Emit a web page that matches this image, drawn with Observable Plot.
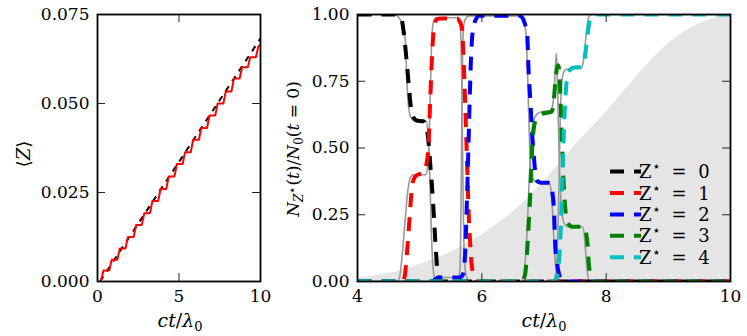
<!DOCTYPE html>
<html><head><meta charset="utf-8">
<script src="https://cdn.jsdelivr.net/npm/d3@7"></script>
<script src="https://cdn.jsdelivr.net/npm/@observablehq/plot@0.6"></script>
<style>
html,body{margin:0;padding:0;background:#fff;}
#wrap{position:relative;width:747px;height:336px;overflow:hidden;}
#left,#right{position:absolute;top:0;}
#left{left:0;} #right{left:280px;}
#wrap svg, #wrap svg text, #wrap svg tspan{font-family:"DejaVu Serif","Liberation Serif",serif !important;}
</style></head><body><div id="wrap"><div id="left"></div><div id="right"></div></div>
<script>
// ---------- Left panel data: <Z> vs ct/lambda0 ----------
const xTicksL = [0, 5, 10];
const yTicksL = [0, 0.025, 0.05, 0.075];
const meanX = [0.15, 10];
const meanY = [0, 0.0683];
const redX = [0.2, 0.37, 0.72, 0.87, 1.22, 1.37, 1.72, 1.87, 2.22, 2.37, 2.72, 2.87, 3.22, 3.37, 3.72, 3.87, 4.22, 4.37, 4.72, 4.87, 5.22, 5.37, 5.72, 5.87, 6.22, 6.37, 6.72, 6.87, 7.22, 7.37, 7.72, 7.87, 8.22, 8.37, 8.72, 8.87, 9.22, 9.37, 9.72, 9.87, 10];
const redY = [0, 0.0031, 0.0031, 0.0061, 0.0061, 0.0093, 0.0093, 0.0125, 0.0125, 0.0159, 0.0159, 0.0192, 0.0192, 0.0226, 0.0226, 0.0260, 0.0260, 0.0295, 0.0295, 0.0330, 0.0330, 0.0363, 0.0363, 0.0398, 0.0398, 0.0431, 0.0431, 0.0466, 0.0466, 0.0500, 0.0500, 0.0534, 0.0534, 0.0570, 0.0570, 0.0602, 0.0602, 0.0630, 0.0630, 0.0660, 0.0665];

// ---------- Right panel data: N_Z*(t)/N0 ----------
const xTicksR = [4, 6, 8, 10];
const yTicksR = [0, 0.25, 0.5, 0.75, 1];
const envX = [4, 4.5, 5, 5.5, 6, 6.5, 7, 7.5, 8, 8.5, 9, 9.5, 10];
const envY = [0.012, 0.03, 0.065, 0.11, 0.175, 0.26, 0.375, 0.51, 0.635, 0.77, 0.89, 0.965, 1.0];

const seriesLabels = ["0", "1", "2", "3", "4"];
const seriesColors = ["#000000", "#ff0000", "#0000ff", "#008000", "#00bfbf"];

// simulation (dashed)
const simX0 = [4, 4.6, 4.66, 4.71, 4.76, 4.8, 4.83, 4.86, 4.9, 4.95, 5.06, 5.1, 5.14, 5.17, 5.2, 5.23, 5.26, 5.29, 5.33, 10];
const simY0 = [1, 1, 0.995, 0.98, 0.9, 0.8, 0.72, 0.65, 0.615, 0.603, 0.6, 0.585, 0.53, 0.44, 0.35, 0.24, 0.12, 0.03, 0, 0];
const simX1 = [4, 4.72, 4.76, 4.79, 4.82, 4.85, 4.88, 4.92, 4.97, 5.06, 5.1, 5.14, 5.17, 5.2, 5.23, 5.27, 5.32, 5.6, 5.64, 5.68, 5.72, 5.755, 5.79, 5.83, 5.87, 5.93, 10];
const simY1 = [0, 0, 0.02, 0.09, 0.18, 0.28, 0.36, 0.39, 0.4, 0.405, 0.43, 0.5, 0.68, 0.85, 0.95, 0.98, 0.985, 0.985, 0.975, 0.95, 0.75, 0.5, 0.25, 0.08, 0.02, 0, 0];
const simX2 = [4, 5.2, 5.26, 5.3, 5.64, 5.68, 5.71, 5.73, 5.76, 5.79, 5.82, 5.85, 5.9, 5.96, 6.62, 6.67, 6.7, 6.73, 6.75, 6.78, 6.81, 6.83, 6.86, 6.9, 6.95, 7.1, 7.13, 7.16, 7.18, 7.21, 7.24, 7.3, 10];
const simY2 = [0, 0, 0.01, 0.015, 0.015, 0.02, 0.04, 0.1, 0.3, 0.55, 0.8, 0.93, 0.98, 0.995, 0.995, 0.98, 0.96, 0.93, 0.8, 0.68, 0.55, 0.49, 0.41, 0.375, 0.37, 0.37, 0.34, 0.27, 0.14, 0.07, 0.03, 0, 0];
const simX3 = [4, 6.64, 6.69, 6.72, 6.75, 6.78, 6.81, 6.84, 6.88, 6.94, 7.0, 7.12, 7.15, 7.18, 7.21, 7.23, 7.25, 7.27, 7.29, 7.31, 7.34, 7.38, 7.45, 7.64, 7.67, 7.7, 7.72, 7.75, 7.8, 10];
const simY3 = [0, 0, 0.02, 0.08, 0.2, 0.33, 0.5, 0.58, 0.61, 0.625, 0.63, 0.635, 0.66, 0.74, 0.8, 0.81, 0.77, 0.65, 0.52, 0.4, 0.28, 0.22, 0.205, 0.205, 0.19, 0.14, 0.07, 0.02, 0, 0];
const simX4 = [4, 7.17, 7.21, 7.24, 7.27, 7.3, 7.33, 7.36, 7.4, 7.46, 7.62, 7.65, 7.68, 7.71, 7.74, 7.78, 7.85, 10];
const simY4 = [0, 0, 0.02, 0.07, 0.2, 0.42, 0.62, 0.74, 0.785, 0.8, 0.805, 0.83, 0.88, 0.94, 0.98, 0.995, 1, 1];

// model (thin grey)
const modX0 = [4, 4.6, 4.66, 4.7, 4.74, 4.77, 4.8, 4.83, 4.88, 4.95, 5.1, 5.13, 5.16, 5.19, 5.22, 5.26, 10];
const modY0 = [1, 1, 0.99, 0.975, 0.95, 0.9, 0.72, 0.64, 0.607, 0.6, 0.6, 0.57, 0.42, 0.17, 0.04, 0, 0];
const modX1 = [4, 4.64, 4.68, 4.72, 4.77, 4.81, 4.85, 4.9, 5.1, 5.13, 5.16, 5.19, 5.22, 5.26, 5.62, 5.65, 5.68, 5.7, 5.72, 5.75, 5.8, 10];
const modY1 = [0, 0, 0.02, 0.1, 0.24, 0.34, 0.39, 0.4, 0.4, 0.43, 0.6, 0.88, 0.97, 0.988, 0.988, 0.97, 0.7, 0.3, 0.08, 0.02, 0, 0];
const modX2 = [4, 5.17, 5.22, 5.27, 5.62, 5.65, 5.67, 5.69, 5.71, 5.74, 5.8, 6.62, 6.67, 6.71, 6.74, 6.77, 6.8, 6.85, 6.9, 7.08, 7.12, 7.15, 7.18, 7.21, 7.25, 10];
const modY2 = [0, 0, 0.008, 0.015, 0.015, 0.05, 0.4, 0.85, 0.96, 0.985, 0.995, 0.995, 0.98, 0.93, 0.75, 0.5, 0.4, 0.375, 0.37, 0.37, 0.33, 0.2, 0.07, 0.02, 0, 0];
const modX3 = [4, 6.63, 6.67, 6.7, 6.73, 6.76, 6.79, 6.83, 6.88, 6.95, 7.1, 7.14, 7.17, 7.19, 7.2, 7.21, 7.23, 7.25, 7.28, 7.32, 7.38, 7.62, 7.65, 7.68, 7.7, 7.73, 10];
const modY3 = [0, 0, 0.02, 0.08, 0.2, 0.37, 0.52, 0.6, 0.625, 0.635, 0.64, 0.66, 0.74, 0.83, 0.855, 0.8, 0.6, 0.42, 0.28, 0.22, 0.205, 0.205, 0.17, 0.08, 0.03, 0, 0];
const modX4 = [4, 7.14, 7.18, 7.21, 7.24, 7.26, 7.28, 7.31, 7.36, 7.6, 7.63, 7.66, 7.69, 7.72, 7.76, 10];
const modY4 = [0, 0, 0.02, 0.1, 0.35, 0.6, 0.72, 0.78, 0.795, 0.8, 0.82, 0.88, 0.95, 0.99, 1, 1];

// ---------- build ----------
const FONT = "DejaVu Serif, Liberation Serif, serif";
const pts = (xs, ys) => xs.map((x, i) => ({x, y: ys[i]}));
const H = 336, mT = 14, mB = 55, TL = 8;
const plotH = H - mT - mB;
const baseStyle = {fontFamily: FONT, fontSize: "17px", background: "transparent", overflow: "visible", color: "black"};

const LW = 280, lML = 97, lMR = 20, lPW = LW - lML - lMR;
const left = Plot.plot({
  width: LW, height: H, marginLeft: lML, marginRight: lMR, marginTop: mT, marginBottom: mB,
  style: baseStyle,
  x: {domain: [0, 10]}, y: {domain: [0, 0.075]},
  marks: [
    Plot.line(pts(meanX, meanY), {x: "x", y: "y", stroke: "black", strokeWidth: 2, strokeDasharray: "6,6", strokeLinecap: "butt", clip: true}),
    Plot.line(pts(redX, redY), {x: "x", y: "y", stroke: "#ff0000", strokeWidth: 2, clip: true}),
    Plot.tickX(xTicksL, {x: d => d, insetTop: plotH - TL, stroke: "#222"}),
    Plot.tickX(xTicksL, {x: d => d, insetBottom: plotH - TL, stroke: "#222"}),
    Plot.tickY(yTicksL, {y: d => d, insetRight: lPW - TL, stroke: "#222"}),
    Plot.tickY(yTicksL, {y: d => d, insetLeft: lPW - TL, stroke: "#222"}),
    Plot.axisX(xTicksL, {tickSize: 0, tickPadding: 8, tickFormat: d => String(d), label: null, fontFamily: FONT}),
    Plot.axisY(yTicksL, {tickSize: 0, tickPadding: 8, tickFormat: d3.format(".3f"), label: null, fontFamily: FONT}),
    Plot.frame({stroke: "black", strokeWidth: 1.8})
  ]
});

const RW = 467, rML = 77, rMR = 17, rPW = RW - rML - rMR;
const simXs = [simX0, simX1, simX2, simX3, simX4];
const simYs = [simY0, simY1, simY2, simY3, simY4];
const modXs = [modX0, modX1, modX2, modX3, modX4];
const modYs = [modY0, modY1, modY2, modY3, modY4];
const right = Plot.plot({
  width: RW, height: H, marginLeft: rML, marginRight: rMR, marginTop: mT, marginBottom: mB,
  style: baseStyle,
  x: {domain: [4, 10]}, y: {domain: [0, 1]},
  marks: [
    Plot.areaY(pts(envX, envY), {x: "x", y: "y", fill: "#e5e5e5", curve: "monotone-x"}),
    ...modXs.map((xs, i) => Plot.line(pts(xs, modYs[i]), {x: "x", y: "y", stroke: "#999999", strokeWidth: 1.6, curve: "monotone-x", clip: true})),
    ...simXs.map((xs, i) => Plot.line(pts(xs, simYs[i]), {x: "x", y: "y", stroke: seriesColors[i], strokeWidth: 4, strokeDasharray: "14,10", strokeLinecap: "butt", curve: "monotone-x", clip: true})),
    Plot.tickX(xTicksR, {x: d => d, insetTop: plotH - TL, stroke: "#222"}),
    Plot.tickX(xTicksR, {x: d => d, insetBottom: plotH - TL, stroke: "#222"}),
    Plot.tickY(yTicksR, {y: d => d, insetRight: rPW - TL, stroke: "#222"}),
    Plot.tickY(yTicksR, {y: d => d, insetLeft: rPW - TL, stroke: "#222"}),
    Plot.axisX(xTicksR, {tickSize: 0, tickPadding: 8, tickFormat: d => String(d), label: null, fontFamily: FONT}),
    Plot.axisY(yTicksR, {tickSize: 0, tickPadding: 8, tickFormat: d3.format(".2f"), label: null, fontFamily: FONT}),
    Plot.frame({stroke: "black", strokeWidth: 1.8})
  ]
});

document.getElementById("left").appendChild(left);
document.getElementById("right").appendChild(right);

// ---------- labels ----------
function xLabel(svg, cx) {
  const t = d3.select(svg).append("text").attr("x", cx).attr("y", 327)
    .attr("text-anchor", "middle").attr("font-size", 19).attr("fill", "black");
  t.append("tspan").attr("font-style", "italic").text("ct");
  t.append("tspan").text("/");
  t.append("tspan").attr("font-style", "italic").text("λ");
  t.append("tspan").attr("font-size", 13).attr("dy", 4).text("0");
}
xLabel(left, 180);
xLabel(right, 264);

{
  const t = d3.select(left).append("text").attr("transform", "translate(30,154) rotate(-90)")
    .attr("text-anchor", "middle").attr("font-size", 18).attr("fill", "black");
  t.append("tspan").text("⟨");
  t.append("tspan").attr("font-style", "italic").text("Z");
  t.append("tspan").text("⟩");
}
{
  const t = d3.select(right).append("text").attr("transform", "translate(19,149) rotate(-90)")
    .attr("text-anchor", "middle").attr("font-size", 17).attr("fill", "black");
  t.append("tspan").attr("font-style", "italic").text("N");
  t.append("tspan").attr("font-style", "italic").attr("font-size", 12).attr("dy", 4).text("Z");
  t.append("tspan").attr("font-size", 12).attr("dy", -7).text("⋆");
  t.append("tspan").attr("dy", 3).text("(");
  t.append("tspan").attr("font-style", "italic").text("t");
  t.append("tspan").text(")/");
  t.append("tspan").attr("font-style", "italic").text("N");
  t.append("tspan").attr("font-size", 12).attr("dy", 4).text("0");
  t.append("tspan").attr("dy", -4).text("(");
  t.append("tspan").attr("font-style", "italic").text("t");
  t.append("tspan").text(" = 0)");
}

// ---------- legend ----------
{
  const g = d3.select(right).append("g");
  seriesLabels.forEach((lab, i) => {
    const y = 171.6 + i * 21.4;
    g.append("line").attr("x1", 330).attr("x2", 361).attr("y1", y).attr("y2", y)
      .attr("stroke", seriesColors[i]).attr("stroke-width", 4).attr("stroke-dasharray", "14,10");
    const t = g.append("text").attr("y", y + 6.5).attr("font-size", 18).attr("fill", "black");
    t.append("tspan").attr("x", 370).text("Z");
    t.append("tspan").attr("font-size", 14).attr("dy", -7).attr("dx", 0.5).text("⋆");
    t.append("tspan").attr("x", 399).attr("dy", 7).text("=");
    t.append("tspan").attr("x", 424).text(lab);
  });
}
</script></body></html>
